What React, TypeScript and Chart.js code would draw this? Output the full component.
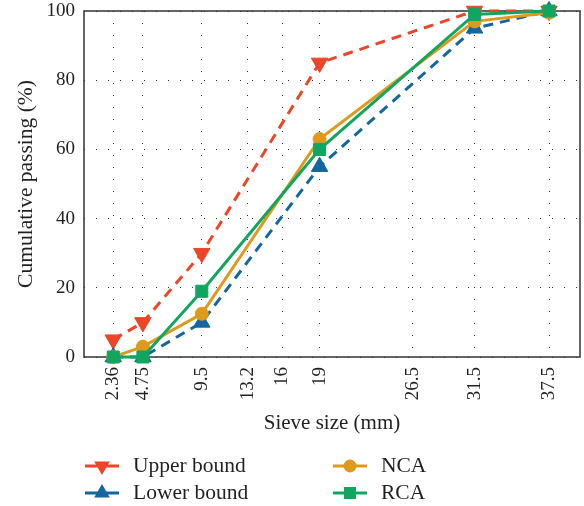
import React, { useEffect, useRef } from 'react';
import { Chart, registerables } from 'chart.js';

Chart.register(...registerables);

// ---- data ----
const tickValues = [2.36, 4.75, 9.5, 13.2, 16, 19, 26.5, 31.5, 37.5];
const tickLabels = ['2.36', '4.75', '9.5', '13.2', '16', '19', '26.5', '31.5', '37.5'];
const yTickValues = [0, 20, 40, 60, 80, 100];
const sieveSizes = [2.36, 4.75, 9.5, 19, 31.5, 37.5];
const upperBound = [5, 10, 30, 85, 100, 100];
const lowerBound = [0, 0, 10, 55, 95, 100];
const ncaValues = [0, 3, 12.5, 63, 97, 99.5];
const rcaValues = [0, 0, 19, 60, 99, 100];
const seriesNames = ['Upper bound', 'Lower bound', 'NCA', 'RCA'];

const FONT = "'Liberation Serif', 'Times New Roman', serif";
const TEXT = '#231f20';
const RED = '#EC4527';
const BLUE = '#14669F';
const ORANGE = '#DE9A1C';
const GREEN = '#10A660';

const toPts = (vals: number[]) => sieveSizes.map((x, i) => ({ x, y: vals[i] }));

function drawMarker(ctx: CanvasRenderingContext2D, kind: string, x: number, y: number, color: string) {
  ctx.save();
  ctx.fillStyle = color;
  ctx.beginPath();
  if (kind === 'down') {
    const r = 9;
    ctx.moveTo(x, y + r);
    ctx.lineTo(x - r * 0.866, y - r / 2);
    ctx.lineTo(x + r * 0.866, y - r / 2);
    ctx.closePath();
  } else if (kind === 'up') {
    const r = 9;
    ctx.moveTo(x, y - r);
    ctx.lineTo(x - r * 0.866, y + r / 2);
    ctx.lineTo(x + r * 0.866, y + r / 2);
    ctx.closePath();
  } else if (kind === 'circle') {
    ctx.arc(x, y, 6.5, 0, Math.PI * 2);
  } else {
    ctx.rect(x - 6, y - 6, 12, 12);
  }
  ctx.fill();
  ctx.restore();
}

const framePlugin = {
  id: 'frame',
  beforeDatasetsDraw(chart: any) {
    const { ctx, chartArea: a } = chart;
    ctx.save();
    ctx.strokeStyle = '#333';
    ctx.lineWidth = 1.5;
    ctx.strokeRect(a.left, a.top, a.right - a.left, a.bottom - a.top);
    ctx.restore();
  },
};

const legendPlugin = {
  id: 'customLegend',
  afterDraw(chart: any) {
    const { ctx } = chart;
    const items = [
      { name: seriesNames[0], color: RED, kind: 'down', x: 85, y: 466 },
      { name: seriesNames[1], color: BLUE, kind: 'up', x: 85, y: 493 },
      { name: seriesNames[2], color: ORANGE, kind: 'circle', x: 333, y: 466 },
      { name: seriesNames[3], color: GREEN, kind: 'rect', x: 333, y: 493 },
    ];
    ctx.save();
    for (const it of items) {
      ctx.strokeStyle = it.color;
      ctx.lineWidth = 3;
      ctx.beginPath();
      ctx.moveTo(it.x, it.y);
      ctx.lineTo(it.x + 34, it.y);
      ctx.stroke();
      drawMarker(ctx, it.kind, it.x + 17, it.y, it.color);
      ctx.fillStyle = TEXT;
      ctx.font = `21.5px ${FONT}`;
      ctx.textBaseline = 'middle';
      ctx.textAlign = 'left';
      ctx.fillText(it.name, it.x + 48, it.y);
    }
    ctx.restore();
  },
};

export default function App() {
  const ref = useRef<HTMLCanvasElement | null>(null);

  useEffect(() => {
    if (!ref.current) return;
    const common = { borderWidth: 3, pointBorderWidth: 1, clip: false as any };
    const chart = new Chart(ref.current, {
      type: 'line',
      data: {
        datasets: [
          {
            label: seriesNames[0], data: toPts(upperBound), borderColor: RED, backgroundColor: RED,
            pointBackgroundColor: RED, pointBorderColor: RED, borderDash: [10, 7],
            pointStyle: 'triangle', pointRotation: 180, pointRadius: 9.5, order: 3, ...common,
          },
          {
            label: seriesNames[1], data: toPts(lowerBound), borderColor: BLUE, backgroundColor: BLUE,
            pointBackgroundColor: BLUE, pointBorderColor: BLUE, borderDash: [10, 7],
            pointStyle: 'triangle', pointRadius: 9.5, order: 2, ...common,
          },
          {
            label: seriesNames[2], data: toPts(ncaValues), borderColor: ORANGE, backgroundColor: ORANGE,
            pointBackgroundColor: ORANGE, pointBorderColor: ORANGE,
            pointStyle: 'circle', pointRadius: 6.5, order: 1, ...common,
          },
          {
            label: seriesNames[3], data: toPts(rcaValues), borderColor: GREEN, backgroundColor: GREEN,
            pointBackgroundColor: GREEN, pointBorderColor: GREEN,
            pointStyle: 'rect', pointRadius: 8.5, order: 0, ...common,
          },
        ] as any,
      },
      options: {
        responsive: false,
        animation: false,
        devicePixelRatio: 1,
        layout: { autoPadding: false, padding: { left: 0, right: 4, top: 11, bottom: 66 } },
        plugins: { legend: { display: false }, tooltip: { enabled: false } },
        elements: { line: { tension: 0 } },
        scales: {
          x: {
            type: 'linear',
            min: 0,
            max: 40,
            afterBuildTicks: (scale: any) => {
              scale.ticks = tickValues.map((v) => ({ value: v }));
            },
            afterFit: (scale: any) => {
              scale.height = 83;
              scale.paddingLeft = 0;
              scale.paddingRight = 0;
            },
            ticks: {
              autoSkip: false,
              minRotation: 90,
              maxRotation: 90,
              padding: 10,
              color: TEXT,
              font: { family: FONT, size: 19 },
              callback: (v: any) => {
                const i = tickValues.indexOf(Number(v));
                return i >= 0 ? tickLabels[i] : '';
              },
            },
            grid: { color: '#333', lineWidth: 1, drawTicks: false },
            border: { display: false, dash: [1, 11] },
            title: {
              display: true,
              text: 'Sieve size (mm)',
              color: TEXT,
              font: { family: FONT, size: 21 },
              padding: { top: 0, bottom: 4 },
            },
          },
          y: {
            min: 0,
            max: 100,
            afterBuildTicks: (scale: any) => {
              scale.ticks = yTickValues.map((v) => ({ value: v }));
            },
            afterFit: (scale: any) => {
              scale.width = 84;
              scale.paddingTop = 0;
              scale.paddingBottom = 0;
            },
            ticks: {
              padding: 9,
              color: TEXT,
              font: { family: FONT, size: 19 },
            },
            grid: { color: '#333', lineWidth: 1, drawTicks: false },
            border: { display: false, dash: [1, 11] },
            title: {
              display: true,
              text: 'Cumulative passing (%)',
              color: TEXT,
              font: { family: FONT, size: 21.5 },
              padding: { top: 13, bottom: 0 },
            },
          },
        },
      } as any,
      plugins: [framePlugin, legendPlugin],
    });
    return () => chart.destroy();
  }, []);

  return (
    <div style={{ position: 'absolute', left: 0, top: 0, width: 584, height: 506, background: '#fff' }}>
      <canvas ref={ref} width={584} height={506} style={{ width: 584, height: 506 }} />
    </div>
  );
}
